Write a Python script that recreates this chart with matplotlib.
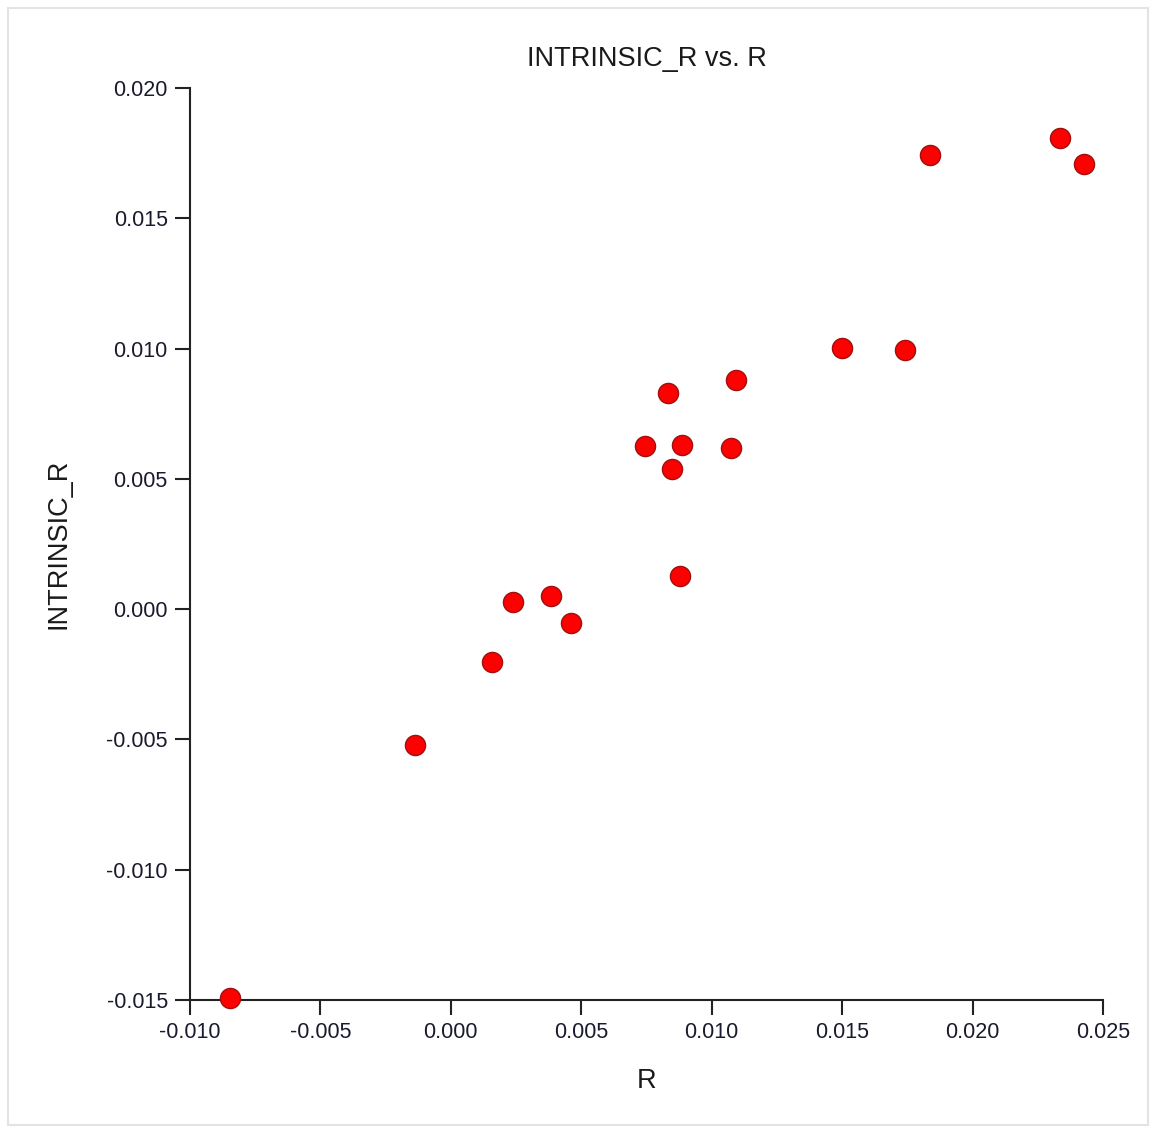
import matplotlib
matplotlib.use("Agg")
import matplotlib.pyplot as plt
from matplotlib.patches import Rectangle

# ---------------- data ----------------
r_values = [-0.00847, -0.00138, 0.00158, 0.00238, 0.00384, 0.00460,
            0.00744, 0.00832, 0.00847, 0.00886, 0.00878, 0.01074,
            0.01093, 0.01499, 0.01741, 0.01836, 0.02335, 0.02427]
intrinsic_r = [-0.01493, -0.00521, -0.00203, 0.00027, 0.00050, -0.00053,
               0.00626, 0.00829, 0.00538, 0.00630, 0.00127, 0.00618,
               0.00879, 0.01002, 0.00994, 0.01743, 0.01808, 0.01708]
x_ticks = [-0.010, -0.005, 0.000, 0.005, 0.010, 0.015, 0.020, 0.025]
y_ticks = [-0.015, -0.010, -0.005, 0.000, 0.005, 0.010, 0.015, 0.020]

plt.rcParams["font.family"] = ["Liberation Sans", "DejaVu Sans"]

fig = plt.figure(figsize=(11.51, 11.30), dpi=100)
ax = fig.add_axes([190 / 1151, 130 / 1130, 913 / 1151, 912 / 1130])

# light frame around the whole picture
fig.patches.append(Rectangle((8 / 1151, 5 / 1130), 1140 / 1151, 1117 / 1130,
                             transform=fig.transFigure, fill=False,
                             edgecolor="#e3e3e3", linewidth=1.5))

ax.scatter(r_values, intrinsic_r, s=210, color="#ff0000",
           edgecolors="#a01010", linewidths=1.0, zorder=3, clip_on=False)

ax.set_xlim(-0.010, 0.025)
ax.set_ylim(-0.015, 0.020)
ax.set_xticks(x_ticks)
ax.set_yticks(y_ticks)
ax.set_xticklabels([f"{v:.3f}" for v in x_ticks])
ax.set_yticklabels([f"{v:.3f}" for v in y_ticks])

for side in ("top", "right"):
    ax.spines[side].set_visible(False)
for side in ("left", "bottom"):
    ax.spines[side].set_linewidth(1.5)
    ax.spines[side].set_color("#222222")

ax.tick_params(axis="both", length=11, width=1.5, color="#222222",
               labelsize=15.5, labelcolor="#1a1a2e", pad=5)

ax.set_title("INTRINSIC_R vs. R", fontsize=19.5, pad=16, color="#1a1a1a")
ax.set_xlabel("R", fontsize=19.5, labelpad=18, color="#1a1a1a")
ax.set_ylabel("INTRINSIC_R", fontsize=19.5, labelpad=25, color="#1a1a1a")

fig.savefig("out.png", dpi=100, facecolor="white")
